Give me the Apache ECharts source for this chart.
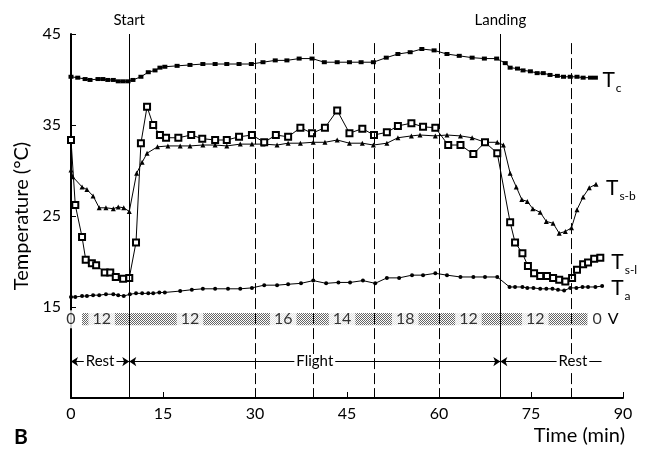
<!DOCTYPE html>
<html>
<head>
<meta charset="utf-8">
<script src="https://cdn.jsdelivr.net/npm/echarts@6/dist/echarts.min.js"></script>
<style>html,body{margin:0;padding:0;background:#fff}#c{width:652px;height:450px}</style>
</head>
<body>
<div id="c"></div>
<script>
// ---- data (time in min, temperature in °C) ----
const tcData = [[0,40.3],[1.1,40.2],[2.3,40.05],[3.1,39.95],[4.4,40.05],[5.2,40.05],[6.0,39.95],[6.9,39.95],[7.7,39.8],[8.5,39.8],[9.3,39.8],[10.1,39.95],[11.4,40.3],[12.6,40.8],[13.7,41.0],[14.5,41.3],[15.3,41.4],[17.3,41.5],[19.4,41.6],[21.5,41.7],[23.5,41.7],[25.4,41.7],[27.4,41.7],[29.4,41.7],[31.3,41.9],[33.3,42.1],[35.2,42.1],[37.2,42.3],[39.3,42.3],[41.3,41.9],[43.4,41.9],[45.4,41.9],[47.3,41.9],[49.3,41.9],[51.4,42.4],[53.3,42.8],[55.3,43.0],[57.2,43.35],[59.2,43.2],[61.3,42.8],[63.3,42.6],[65.4,42.4],[67.4,42.3],[69.4,42.3],[70.8,41.8],[71.6,41.3],[72.8,41.2],[73.7,41.0],[74.9,40.9],[76.0,40.7],[77.0,40.7],[78.1,40.5],[79.3,40.4],[80.3,40.3],[81.4,40.3],[82.5,40.3],[83.5,40.2],[84.7,40.2],[85.5,40.2]];
const tsbData = [[0,30.05],[0.3,29.3],[1.8,28.2],[2.6,27.9],[3.6,27.2],[4.6,25.9],[5.7,25.9],[6.9,25.8],[7.7,26.0],[8.6,25.9],[9.5,25.5],[10.7,29.7],[11.6,30.9],[12.4,31.9],[14.1,32.6],[15.8,32.7],[17.8,32.7],[19.4,32.7],[21.5,32.8],[23.5,32.8],[25.4,32.7],[27.6,32.9],[29.5,32.9],[31.3,32.9],[33.6,32.8],[35.4,33.0],[37.4,33.0],[39.5,33.1],[41.4,33.1],[43.4,33.35],[45.4,33.0],[47.5,33.0],[49.3,32.8],[51.5,33.0],[53.3,33.6],[55.5,33.8],[56.9,33.9],[59.4,33.8],[61.3,33.9],[63.5,33.8],[65.4,33.6],[67.5,33.1],[69.5,33.1],[70.5,32.8],[71.6,29.7],[72.6,28.2],[73.5,26.8],[74.4,26.6],[75.3,25.8],[76.5,25.4],[77.5,24.4],[78.6,24.2],[79.6,23.1],[80.6,23.3],[81.6,23.7],[82.5,25.7],[83.5,27.1],[84.5,28.1],[85.6,28.5]];
const tslData = [[0,33.35],[0.7,26.2],[1.8,22.7],[2.4,20.2],[3.4,19.8],[4.1,19.6],[5.5,18.8],[6.4,18.8],[7.3,18.3],[8.5,18.1],[9.5,18.2],[10.6,22.1],[11.4,33.0],[12.4,37.0],[13.4,35.0],[14.5,33.9],[15.5,33.6],[17.5,33.6],[19.6,33.9],[21.4,33.5],[23.5,33.35],[25.4,33.35],[27.4,33.7],[29.5,33.9],[31.5,33.1],[33.4,33.9],[35.4,33.7],[37.4,34.7],[39.3,34.1],[41.4,34.7],[43.4,36.6],[45.4,34.1],[47.5,34.6],[49.4,33.9],[51.5,34.2],[53.3,34.9],[55.5,35.2],[57.4,34.8],[59.4,34.7],[61.5,32.8],[63.5,32.8],[65.6,31.8],[67.5,33.1],[69.5,31.9],[71.6,24.3],[72.4,22.1],[73.6,20.9],[74.5,19.5],[75.5,18.7],[76.5,18.4],[77.6,18.4],[78.6,18.2],[79.6,18.0],[80.6,17.8],[81.7,18.2],[82.5,19.1],[83.5,19.7],[84.3,19.9],[85.3,20.3],[86.3,20.4]];
const taData = [[0,16.1],[0.7,16.1],[1.8,16.2],[2.6,16.2],[3.6,16.3],[4.6,16.3],[5.7,16.4],[6.9,16.4],[7.7,16.3],[8.6,16.2],[9.6,16.4],[10.6,16.5],[11.6,16.5],[12.6,16.5],[13.4,16.5],[14.4,16.6],[15.3,16.6],[17.8,16.75],[19.7,16.9],[21.5,17.0],[23.5,17.0],[25.6,17.0],[27.6,17.0],[29.5,17.1],[31.5,17.4],[33.6,17.4],[35.4,17.5],[37.5,17.6],[39.5,17.9],[41.6,17.6],[43.6,17.7],[45.5,17.7],[47.6,17.9],[49.6,17.6],[51.5,18.2],[53.5,18.2],[55.6,18.5],[57.4,18.5],[59.4,18.7],[61.3,18.5],[63.5,18.3],[65.6,18.3],[67.5,18.3],[69.5,18.3],[71.5,17.2],[72.4,17.2],[73.6,17.2],[74.4,17.1],[75.4,17.1],[76.5,17.0],[77.5,17.0],[78.5,17.0],[79.4,16.9],[80.4,16.8],[81.4,17.1],[82.4,17.1],[83.4,17.2],[84.3,17.2],[85.5,17.2],[86.6,17.3]];

// wind speed row (V)
const windTimes = [0, 5, 19.4, 34.6, 44.2, 54.5, 64.8, 75.7, 85.8];
const windValues = [0, 12, 12, 16, 14, 18, 12, 12, 0];
const windBand = [1.8, 84.2];

// events
const startTime = 9.5;
const landingTime = 70;
const dashedTimes = [30, 39.5, 49.5, 60, 81.5];
const phases = [
  {name: 'Rest', from: 0, to: 9.5},
  {name: 'Flight', from: 9.5, to: 70},
  {name: 'Rest', from: 70, to: 86.5}
];

const xTicks = [0, 15, 30, 45, 60, 75, 90];
const yTicks = [15, 25, 35, 45];

// ---- chart ----
const FONT = 'Lato';
const chart = echarts.init(document.getElementById('c'), null, {renderer: 'canvas'});

// stipple pattern for the wind band
const pc = document.createElement('canvas');
pc.width = 2; pc.height = 2;
const px = pc.getContext('2d');
px.fillStyle = '#fff'; px.fillRect(0,0,2,2);
px.fillStyle = '#666'; px.fillRect(0,0,1,1); px.fillRect(1,1,1,1);

const rich = {
  T: {fontSize: 21, fontFamily: FONT, color: '#000', verticalAlign: 'bottom', lineHeight: 22},
  s: {fontSize: 12, fontFamily: FONT, color: '#000', verticalAlign: 'bottom', lineHeight: 12, padding: [0,0,-3,1]}
};
function endLab(sub, dx, dy) {
  return {show: true, formatter: '{T|T}{s|' + sub + '}', rich: rich, offset: [dx, dy], distance: 0};
}

const lineBase = {type: 'line', lineStyle: {color: '#000', width: 1}, itemStyle: {color: '#000'}, z: 3, animation: false};

const vLineData = [];
dashedTimes.forEach(t => vLineData.push([{coord: [t, 44], lineStyle: {type: [11, 4], width: 1}}, {coord: [t, 5]}]));
vLineData.push([{coord: [startTime, 45], lineStyle: {type: 'solid', width: 1}, label: {show: true, formatter: 'Start', position: 'start'}}, {coord: [startTime, 5]}]);
vLineData.push([{coord: [landingTime, 45], lineStyle: {type: 'solid', width: 1}, label: {show: true, formatter: 'Landing', position: 'start'}}, {coord: [landingTime, 5]}]);

const phaseData = phases.map((p, i) => {
  const last = i === phases.length - 1;
  return [
    {coord: [p.from, 9], symbol: 'arrow', label: {show: true, formatter: p.name, position: 'middle', offset: last ? [22, 0] : [0, 0]}},
    {coord: [p.to, 9], symbol: last ? 'none' : 'arrow'}
  ];
});

const option = {
  animation: false,
  textStyle: {fontFamily: FONT},
  title: {text: 'B', left: 14, top: 427, padding: 0, textStyle: {fontSize: 21, fontWeight: 'bold', fontFamily: FONT, color: '#000'}},
  grid: {left: 71, right: 29, top: 34, bottom: 52, containLabel: false},
  xAxis: {
    type: 'value', min: 0, max: 90, interval: 15,
    name: 'Time (min)', nameLocation: 'end', nameGap: 2,
    nameTextStyle: {fontSize: 20, color: '#000', fontFamily: FONT, align: 'right', verticalAlign: 'top', padding: [28, 0, 0, 0]},
    axisLine: {lineStyle: {color: '#000', width: 2}},
    axisTick: {inside: true, length: 6, lineStyle: {color: '#000', width: 1}},
    axisLabel: {color: '#000', fontSize: 16, margin: 8, fontFamily: FONT, formatter: v => xTicks.includes(v) ? String(v) : ''},
    splitLine: {show: false}
  },
  yAxis: {
    type: 'value', min: 5, max: 45, interval: 10,
    name: 'Temperature (°C)', nameLocation: 'middle', nameGap: 28, nameRotate: 90,
    nameTextStyle: {fontSize: 20, color: '#000', fontFamily: FONT},
    axisLine: {show: true, lineStyle: {color: '#000', width: 2}},
    axisTick: {inside: true, length: 5, lineStyle: {color: '#000', width: 1}},
    axisLabel: {color: '#000', fontSize: 16, margin: 10, fontFamily: FONT, showMinLabel: false, formatter: v => yTicks.includes(v) ? String(v) : ''},
    splitLine: {show: false}
  },
  series: [
    Object.assign({}, lineBase, {name: 'Tc', data: tcData, symbol: 'rect', symbolSize: [5, 4], endLabel: endLab('c', 7, 2)}),
    Object.assign({}, lineBase, {name: 'Ts-b', data: tsbData, symbol: 'triangle', symbolSize: 5, endLabel: endLab('s-b', 10, 4)}),
    Object.assign({}, lineBase, {name: 'Ts-l', data: tslData, symbol: 'emptyRect', symbolSize: 6, itemStyle: {color: '#000', borderColor: '#000', borderWidth: 1}, endLabel: endLab('s-l', 11, 4)}),
    Object.assign({}, lineBase, {name: 'Ta', data: taData, symbol: 'circle', symbolSize: 4, endLabel: endLab('a', 9, 2)}),
    {
      name: 'V', type: 'scatter', z: 4, symbolSize: 0,
      data: windTimes.map((t, i) => [t, 13.65, windValues[i]]),
      label: {show: true, position: 'inside', formatter: p => String(p.data[2]), color: '#000', fontSize: 16, fontFamily: FONT, backgroundColor: '#fff', padding: [1, 4, 1, 4]},
      markArea: {silent: true, itemStyle: {color: {image: pc, repeat: 'repeat'}}, data: [[{coord: [windBand[0], 14.35]}, {coord: [windBand[1], 13.0]}]]},
      markPoint: {symbol: 'rect', symbolSize: 0, label: {show: true, formatter: 'V', color: '#000', fontSize: 16, fontFamily: FONT, offset: [16, 0]}, data: [{coord: [windTimes[windTimes.length - 1], 13.65]}]}
    },
    {
      name: 'events', type: 'line', data: [], z: 2,
      markLine: {silent: true, symbol: 'none', animation: false,
        lineStyle: {color: '#000', width: 1},
        label: {color: '#000', fontSize: 15, fontFamily: FONT, distance: 6},
        data: vLineData}
    },
    {
      name: 'phases', type: 'line', data: [], z: 2,
      markLine: {silent: true, symbolSize: 7, animation: false,
        lineStyle: {color: '#000', width: 1, type: 'solid'},
        label: {color: '#000', fontSize: 15, fontFamily: FONT, backgroundColor: '#fff', padding: [0, 2, 0, 2], distance: 0, verticalAlign: 'middle'},
        data: phaseData}
    }
  ]
};
chart.setOption(option);
</script>
</body>
</html>
